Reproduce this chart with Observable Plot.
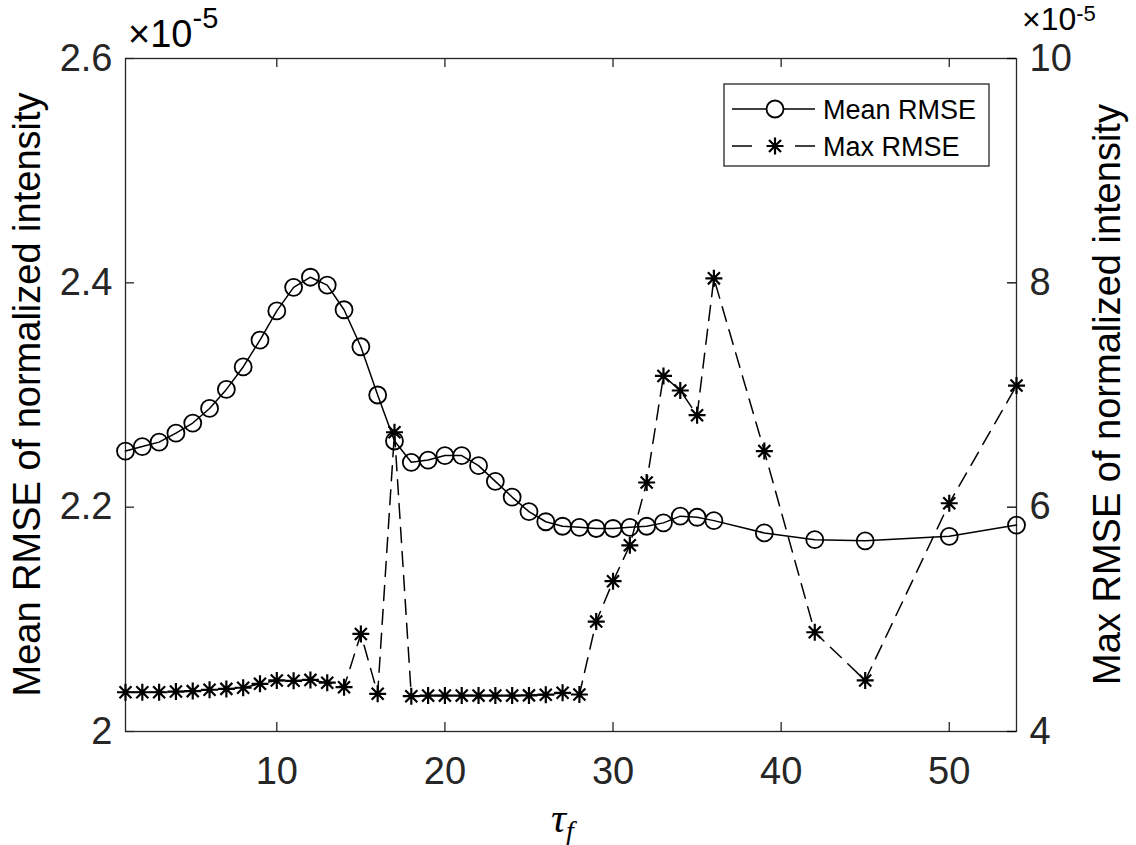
<!DOCTYPE html>
<html><head><meta charset="utf-8">
<script src="https://cdn.jsdelivr.net/npm/d3@7"></script>
<script src="https://cdn.jsdelivr.net/npm/@observablehq/plot@0.6"></script>
<style>
html,body{margin:0;padding:0;background:#fff;overflow:hidden;}
#chart{position:relative;width:1136px;height:845px;}
#chart svg{position:absolute;left:0;top:0;}
</style></head><body><div id="chart"></div>
<script>
// ---- data ----
const tau = [1,2,3,4,5,6,7,8,9,10,11,12,13,14,15,16,17,18,19,20,21,22,23,24,25,26,27,28,29,30,31,32,33,34,35,36,39,42,45,50,54];
const meanRMSE = [2.250,2.254,2.258,2.266,2.275,2.288,2.305,2.325,2.349,2.375,2.396,2.405,2.398,2.376,2.343,2.300,2.259,2.240,2.242,2.246,2.246,2.237,2.223,2.209,2.196,2.187,2.183,2.182,2.181,2.181,2.182,2.183,2.186,2.192,2.191,2.188,2.177,2.171,2.170,2.174,2.184];
const maxRMSE = [4.35,4.35,4.35,4.356,4.36,4.372,4.38,4.39,4.425,4.455,4.452,4.46,4.435,4.395,4.87,4.336,6.668,4.315,4.32,4.32,4.32,4.32,4.32,4.32,4.322,4.328,4.345,4.33,4.98,5.34,5.66,6.22,7.17,7.04,6.82,8.04,6.50,4.885,4.455,6.035,7.084];
const xTicks = [10,20,30,40,50];
const yLeftTicks = [2,2.2,2.4,2.6];
const yRightTicks = [4,6,8,10];
const xDomain = [1,54];
const yLeftDomain = [2,2.6];
const yRightDomain = [4,10];
const seriesNames = ["Mean RMSE","Max RMSE"];
const yLeftLabel = "Mean RMSE of normalized intensity";
const yRightLabel = "Max RMSE of normalized intensity";
const exponentText = "-5";

// ---- layout ----
const W=1136,H=845,mL=125,mR=120,mT=58,mB=114;
const innerW=W-mL-mR, innerH=H-mT-mB;
const tickLen=9;
const axisColor="#262626";
const font="'Liberation Sans', Arial, Helvetica, sans-serif";

const meanData = tau.map((t,i)=>({t, v: meanRMSE[i]}));
const maxData = tau.map((t,i)=>({t, v: maxRMSE[i]}));

// 8-armed asterisk like MATLAB '*'
const asterisk8 = {
  draw(ctx, size){
    const r = Math.sqrt(size/Math.PI);
    const d = r/Math.SQRT2;
    ctx.moveTo(-r,0); ctx.lineTo(r,0);
    ctx.moveTo(0,-r); ctx.lineTo(0,r);
    ctx.moveTo(-d,-d); ctx.lineTo(d,d);
    ctx.moveTo(-d,d); ctx.lineTo(d,-d);
  }
};

const common = {width:W,height:H,marginLeft:mL,marginRight:mR,marginTop:mT,marginBottom:mB,
  style:{fontFamily:font,fontSize:"38px",color:axisColor,background:"transparent",overflow:"visible"}};

const p1 = Plot.plot({...common,
  x:{domain:xDomain},
  y:{domain:yLeftDomain},
  marks:[
    Plot.ruleX(xTicks,{x:d=>d,insetTop:innerH-tickLen,stroke:axisColor,strokeWidth:1.3}),
    Plot.ruleX(xTicks,{x:d=>d,insetBottom:innerH-tickLen,stroke:axisColor,strokeWidth:1.3}),
    Plot.ruleY(yLeftTicks,{y:d=>d,insetRight:innerW-tickLen,stroke:axisColor,strokeWidth:1.3}),
    Plot.frame({stroke:axisColor,strokeWidth:1.3}),
    Plot.axisX({ticks:xTicks,tickSize:0,tickPadding:26,fontSize:38,label:null,tickFormat:d=>String(d)}),
    Plot.axisY({anchor:"left",ticks:yLeftTicks,tickSize:0,tickPadding:13,fontSize:38,label:null,tickFormat:d=>String(d)}),
    Plot.line(meanData,{x:"t",y:"v",stroke:"#000",strokeWidth:1.5}),
    Plot.dot(meanData,{x:"t",y:"v",r:8.5,stroke:"#000",strokeWidth:1.8,fill:"none"})
  ]});

const p2 = Plot.plot({...common,
  x:{domain:xDomain,axis:null},
  y:{domain:yRightDomain},
  marks:[
    Plot.ruleY(yRightTicks,{y:d=>d,insetLeft:innerW-tickLen,stroke:"#000",strokeWidth:1.3}),
    Plot.axisY({anchor:"right",ticks:yRightTicks,tickSize:0,tickPadding:13,fontSize:38,label:null,tickFormat:d=>String(d)}),
    Plot.line(maxData,{x:"t",y:"v",stroke:"#000",strokeWidth:1.5,strokeDasharray:"15,9"}),
    Plot.dot(maxData,{x:"t",y:"v",r:8.5,symbol:asterisk8,stroke:"#000",strokeWidth:2.2,fill:"none"})
  ]});

const chart = document.getElementById("chart");
chart.appendChild(p1);
chart.appendChild(p2);

// ---- annotations ----
const s = d3.select(p2);
const midY = mT+innerH/2;
s.append("text").attr("transform",`translate(40,${midY}) rotate(-90)`)
  .attr("text-anchor","middle").attr("font-family",font).attr("font-size",38).attr("fill","#000").text(yLeftLabel);
s.append("text").attr("transform",`translate(1120,${midY}) rotate(-90)`)
  .attr("text-anchor","middle").attr("font-family",font).attr("font-size",38).attr("fill","#000").text(yRightLabel);

// x label tau_f
const xl = s.append("text").attr("x",551).attr("y",832).attr("text-anchor","start")
  .attr("font-family","'Liberation Serif','DejaVu Serif',serif")
  .attr("font-style","italic").attr("font-size",42).attr("fill","#000");
xl.append("tspan").text("τ");
xl.append("tspan").attr("font-size",28).attr("dy",8).text("f");

// exponent labels
function expo(x,y,size,supSize,supDy){
  const t = s.append("text").attr("x",x).attr("y",y).attr("text-anchor","start")
    .attr("font-family",font).attr("font-size",size).attr("fill","#000");
  t.append("tspan").text("×10");
  t.append("tspan").attr("font-size",supSize).attr("dy",supDy).text(exponentText);
}
expo(128,47,38,29,-19);
expo(1022,30,32,22,-9);

// legend
const lg = s.append("g").attr("text-anchor","start");
lg.append("rect").attr("x",724).attr("y",84).attr("width",265).attr("height",82)
  .attr("fill","#fff").attr("stroke",axisColor).attr("stroke-width",1.3);
const r1=109, r2=146;
lg.append("line").attr("x1",732).attr("x2",815).attr("y1",r1).attr("y2",r1).attr("stroke","#000").attr("stroke-width",1.5);
lg.append("circle").attr("cx",775).attr("cy",r1).attr("r",8.5).attr("fill","#fff").attr("stroke","#000").attr("stroke-width",1.8);
lg.append("line").attr("x1",732).attr("x2",752).attr("y1",r2).attr("y2",r2).attr("stroke","#000").attr("stroke-width",1.5);
lg.append("line").attr("x1",795).attr("x2",815).attr("y1",r2).attr("y2",r2).attr("stroke","#000").attr("stroke-width",1.5);
const sp = d3.path(); asterisk8.draw(sp, Math.PI*8.5*8.5);
lg.append("path").attr("d",sp.toString()).attr("transform",`translate(775,${r2})`).attr("fill","none").attr("stroke","#000").attr("stroke-width",2.2);
lg.append("text").attr("x",823).attr("y",r1+10).attr("font-family",font).attr("font-size",27).attr("fill","#000").text(seriesNames[0]);
lg.append("text").attr("x",823).attr("y",r2+10).attr("font-family",font).attr("font-size",27).attr("fill","#000").text(seriesNames[1]);
</script></body></html>
